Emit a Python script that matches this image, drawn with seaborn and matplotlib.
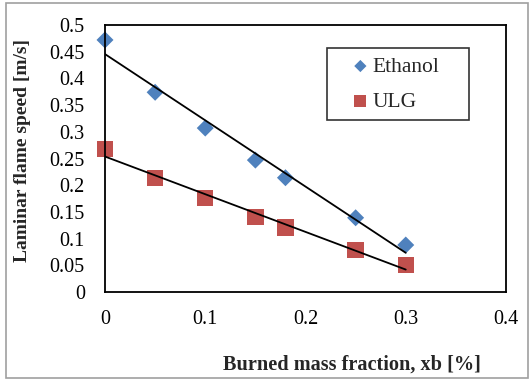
import numpy as np
import pandas as pd
import matplotlib
matplotlib.use("Agg")
import matplotlib.pyplot as plt
import seaborn as sns
from matplotlib.patches import Rectangle

xb = [0, 0.05, 0.1, 0.15, 0.18, 0.25, 0.3]
ethanol = [0.472, 0.374, 0.307, 0.247, 0.214, 0.139, 0.088]
ulg = [0.268, 0.214, 0.176, 0.140, 0.121, 0.079, 0.051]
series_names = ["Ethanol", "ULG"]
colors = ["#4F81BD", "#C0504D"]
markers = ["D", "s"]
xticks = [0, 0.1, 0.2, 0.3, 0.4]
yticks = [0, 0.05, 0.1, 0.15, 0.2, 0.25, 0.3, 0.35, 0.4, 0.45, 0.5]

sns.set_style("white")
plt.rcParams['font.family'] = ['Liberation Serif', 'DejaVu Serif']

df = pd.DataFrame({
    "xb": xb * 2,
    "speed": ethanol + ulg,
    "fuel": [series_names[0]] * len(xb) + [series_names[1]] * len(xb),
})

fig = plt.figure(figsize=(5.3, 3.8), dpi=100)
ax = fig.add_axes([105 / 530, 1 - 292 / 380, (506 - 105) / 530, (292 - 25) / 380])

sizes = [75, 140]
for name, c, m, s in zip(series_names, colors, markers, sizes):
    sub = df[df["fuel"] == name]
    sns.regplot(data=sub, x="xb", y="speed", ax=ax, ci=None, scatter=False,
                line_kws=dict(color="black", lw=1.3, zorder=3))
    sns.scatterplot(data=sub, x="xb", y="speed", ax=ax, marker=m, s=s,
                    color=c, edgecolor="none", label=name, zorder=2, clip_on=False)

ax.set_xlim(0, 0.4)
ax.set_ylim(0, 0.5)
ax.set_xticks(xticks)
ax.set_xticklabels([f"{t:g}" for t in xticks])
ax.set_yticks(yticks)
ax.set_yticklabels([f"{t:g}" for t in yticks])
ax.tick_params(axis="both", length=0, labelsize=14.5, colors="black")
ax.tick_params(axis="y", pad=14.5)
ax.tick_params(axis="x", pad=13)
for sp in ax.spines.values():
    sp.set_visible(True)
    sp.set_color("black")
    sp.set_linewidth(1.3)

ax.set_xlabel("Burned mass fraction, xb [%]", fontsize=14.6, fontweight="bold")
ax.xaxis.set_label_coords((352 - 105) / 401, -(365 - 292) / 267)
ax.xaxis.label.set_va("center")
ax.set_ylabel("Laminar flame speed [m/s]", fontsize=14, fontweight="bold")
ax.yaxis.set_label_coords(-(105 - 23) / 401, (292 - 151) / 267)
ax.yaxis.label.set_va("center")

lx0 = (327 - 105) / 401
lw = (469 - 327) / 401
ltop = 1 - (48 - 25) / 267
leg = ax.legend(loc="upper left", bbox_to_anchor=(lx0, ltop - 0.3, lw, 0.3), mode="expand",
                frameon=True, fancybox=False, fontsize=15.5, handletextpad=-0.6,
                borderpad=0.4, labelspacing=0.7, handlelength=2.3, borderaxespad=0,
                markerscale=0.72)
leg.get_frame().set_edgecolor("black")
leg.get_frame().set_linewidth(1.2)

fig.patches.append(Rectangle((6 / 530, 2 / 380), 522 / 530, 375 / 380, transform=fig.transFigure,
                             fill=False, edgecolor="#A0A0A0", lw=1.2))

fig.savefig("out.png", dpi=100)
